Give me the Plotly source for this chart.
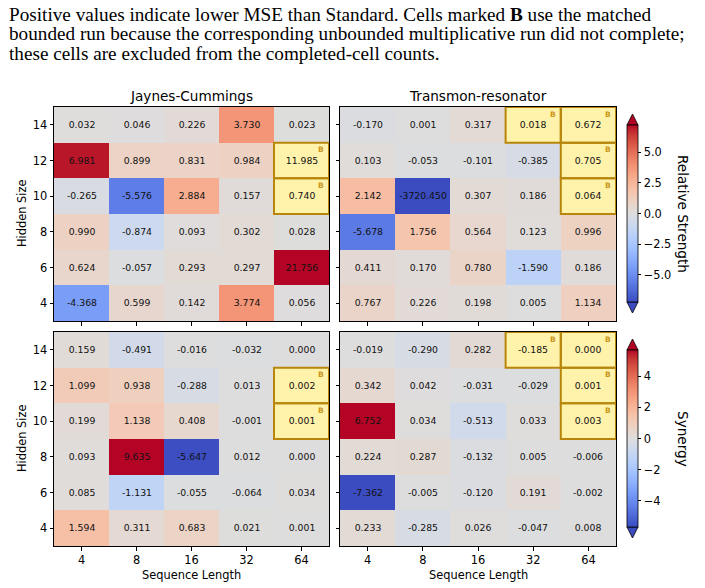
import plotly.graph_objects as go

W, H = 705, 588

seq_lengths = ["4", "8", "16", "32", "64"]
hidden_sizes = [14, 12, 10, 8, 6, 4]

# Relative strength (rows: hidden 14 -> 4, cols: seq 4 -> 64)
rel_jc = [
    [0.032, 0.046, 0.226, 3.730, 0.023],
    [6.981, 0.899, 0.831, 0.984, 11.985],
    [-0.265, -5.576, 2.884, 0.157, 0.740],
    [0.990, -0.874, 0.093, 0.302, 0.028],
    [0.624, -0.057, 0.293, 0.297, 21.756],
    [-4.368, 0.599, 0.142, 3.774, 0.056],
]
rel_tr = [
    [-0.170, 0.001, 0.317, 0.018, 0.672],
    [0.103, -0.053, -0.101, -0.385, 0.705],
    [2.142, -3720.450, 0.307, 0.186, 0.064],
    [-5.678, 1.756, 0.564, 0.123, 0.996],
    [0.411, 0.170, 0.780, -1.590, 0.186],
    [0.767, 0.226, 0.198, 0.005, 1.134],
]
syn_jc = [
    [0.159, -0.491, -0.016, -0.032, 0.000],
    [1.099, 0.938, -0.288, 0.013, 0.002],
    [0.199, 1.138, 0.408, -0.001, 0.001],
    [0.093, 9.635, -5.647, 0.012, 0.000],
    [0.085, -1.131, -0.055, -0.064, 0.034],
    [1.594, 0.311, 0.683, 0.021, 0.001],
]
syn_tr = [
    [-0.019, -0.290, 0.282, -0.185, 0.000],
    [0.342, 0.042, -0.031, -0.029, 0.001],
    [6.752, 0.034, -0.513, 0.033, 0.003],
    [0.224, 0.287, -0.132, 0.005, -0.006],
    [-7.362, -0.005, -0.120, 0.191, -0.002],
    [0.233, -0.285, 0.026, -0.047, 0.008],
]
# Bounded-run flags (same row/col order)
bounded_jc = [
    [0, 0, 0, 0, 0],
    [0, 0, 0, 0, 1],
    [0, 0, 0, 0, 1],
    [0, 0, 0, 0, 0],
    [0, 0, 0, 0, 0],
    [0, 0, 0, 0, 0],
]
bounded_tr = [
    [0, 0, 0, 1, 1],
    [0, 0, 0, 0, 1],
    [0, 0, 0, 0, 1],
    [0, 0, 0, 0, 0],
    [0, 0, 0, 0, 0],
    [0, 0, 0, 0, 0],
]
rel_limit = 7.2
syn_limit = 5.7

# matplotlib coolwarm
_r = [0.2298057, 0.26623388, 0.30386891, 0.342804478, 0.38301334, 0.424369608, 0.46666708, 0.509635204,
      0.552953156, 0.596262162, 0.639176211, 0.681291281, 0.722193294, 0.761464949, 0.798691636, 0.833466556,
      0.865395197, 0.897787179, 0.924127593, 0.944468518, 0.958852946, 0.96732803, 0.969954137, 0.966811177,
      0.958003065, 0.943660866, 0.923944917, 0.89904617, 0.869186849, 0.834620542, 0.795631745, 0.752534934,
      0.705673158]
_g = [0.298717966, 0.353094838, 0.406535296, 0.458757618, 0.50941904, 0.558148092, 0.604562568, 0.648280772,
      0.688929332, 0.726149107, 0.759599947, 0.788964712, 0.813952739, 0.834302879, 0.849786142, 0.860207984,
      0.86541021, 0.848937047, 0.827384882, 0.800927443, 0.769767752, 0.734132809, 0.694266682, 0.650421156,
      0.602842431, 0.551750968, 0.49730856, 0.439559467, 0.378313092, 0.312874446, 0.24128379, 0.157246067,
      0.01555616]
_b = [0.753683153, 0.801466763, 0.84495867, 0.883725899, 0.917387822, 0.945619588, 0.968154911, 0.98478814,
      0.995375608, 0.999836203, 0.998151185, 0.990363227, 0.976574709, 0.956945269, 0.931688648, 0.901068838,
      0.865395561, 0.820880546, 0.774508472, 0.726736146, 0.678007945, 0.628751763, 0.579375448, 0.530263762,
      0.481775914, 0.434243684, 0.387970225, 0.343229596, 0.300267182, 0.259301199, 0.220525627, 0.184115123,
      0.150232812]
coolwarm = [[i / 32, "rgb(%d,%d,%d)" % (round(r * 255), round(g * 255), round(b * 255))]
            for i, (r, g, b) in enumerate(zip(_r, _g, _b))]

FONT = "DejaVu Sans"
YELLOW = "#fff2aa"
GOLD = "#b8860b"


def px(x):
    return x / W


def py(y):
    return 1 - y / H


panels = [
    # data, bounded, coloraxis, x-range px, y-range px
    (rel_jc, bounded_jc, "coloraxis", (54, 329), (107, 321)),
    (rel_tr, bounded_tr, "coloraxis", (340, 616), (107, 321)),
    (syn_jc, bounded_jc, "coloraxis2", (54, 329), (332, 546)),
    (syn_tr, bounded_tr, "coloraxis2", (340, 616), (332, 546)),
]

fig = go.Figure()
shapes = []
annotations = []
layout_axes = {}

for k, (z, bmask, cax, (xl, xr), (yt, yb)) in enumerate(panels, start=1):
    xa = "x" if k == 1 else "x%d" % k
    ya = "y" if k == 1 else "y%d" % k
    text_main = [["" if bmask[i][j] else "%.3f" % z[i][j] for j in range(5)] for i in range(6)]
    fig.add_trace(go.Heatmap(
        z=z, x=seq_lengths, y=hidden_sizes, coloraxis=cax,
        text=text_main, texttemplate="%{text}",
        textfont=dict(family=FONT, size=9.3, color="#111"),
        xaxis=xa, yaxis=ya, hoverinfo="skip",
    ))
    zb = [[1 if bmask[i][j] else None for j in range(5)] for i in range(6)]
    text_b = [["%.3f" % z[i][j] if bmask[i][j] else "" for j in range(5)] for i in range(6)]
    fig.add_trace(go.Heatmap(
        z=zb, x=seq_lengths, y=hidden_sizes,
        colorscale=[[0, YELLOW], [1, YELLOW]], showscale=False,
        text=text_b, texttemplate="%{text}",
        textfont=dict(family=FONT, size=9.3, color="#111"),
        xaxis=xa, yaxis=ya, hoverinfo="skip",
    ))
    for i in range(6):
        for j in range(5):
            if bmask[i][j]:
                shapes.append(dict(type="rect", xref=xa, yref=ya,
                                   x0=j - 0.5, x1=j + 0.5,
                                   y0=hidden_sizes[i] - 1, y1=hidden_sizes[i] + 1,
                                   line=dict(color=GOLD, width=2), fillcolor="rgba(0,0,0,0)",
                                   layer="above"))
                annotations.append(dict(xref=xa, yref=ya, x=j + 0.35, y=hidden_sizes[i] + 0.59,
                                        text="<b>B</b>", showarrow=False,
                                        font=dict(family=FONT, size=7.5, color="#c9961a"),
                                        xanchor="center", yanchor="middle"))
    axn = "xaxis" if k == 1 else "xaxis%d" % k
    ayn = "yaxis" if k == 1 else "yaxis%d" % k
    layout_axes[axn] = dict(
        domain=[px(xl), px(xr)], anchor=ya, type="category", range=[-0.5, 4.5],
        showline=True, mirror=True, linecolor="black", linewidth=1,
        ticks="outside", ticklen=3.5, tickwidth=0.8, tickcolor="black",
        showticklabels=(k >= 3), tickfont=dict(family=FONT, size=11.4, color="black"),
        showgrid=False, zeroline=False, fixedrange=True,
    )
    layout_axes[ayn] = dict(
        domain=[py(yb), py(yt)], anchor=xa, range=[3, 15],
        tickvals=hidden_sizes, ticktext=[str(h) for h in hidden_sizes],
        showline=True, mirror=True, linecolor="black", linewidth=1,
        ticks="outside", ticklen=3.5, tickwidth=0.8, tickcolor="black",
        showticklabels=(k in (1, 3)), tickfont=dict(family=FONT, size=11.4, color="black"),
        showgrid=False, zeroline=False, fixedrange=True,
    )

# Panel titles and axis labels
for title, xc in (("Jaynes-Cummings", 191.5), ("Transmon-resonator", 478)):
    annotations.append(dict(xref="paper", yref="paper", x=px(xc), y=py(96), text=title,
                            showarrow=False, xanchor="center", yanchor="middle",
                            font=dict(family=FONT, size=13.6, color="black")))
for yc in (214, 439):
    annotations.append(dict(xref="paper", yref="paper", x=px(22), y=py(yc), text="Hidden Size",
                            showarrow=False, textangle=-90, xanchor="center", yanchor="middle",
                            font=dict(family=FONT, size=11.4, color="black")))
for xc in (191.5, 478):
    annotations.append(dict(xref="paper", yref="paper", x=px(xc), y=py(575), text="Sequence Length",
                            showarrow=False, xanchor="center", yanchor="middle",
                            font=dict(family=FONT, size=11.4, color="black")))
for label, yc in (("Relative Strength", 214), ("Synergy", 439)):
    annotations.append(dict(xref="paper", yref="paper", x=px(683), y=py(yc), text=label,
                            showarrow=False, textangle=90, xanchor="center", yanchor="middle",
                            font=dict(family=FONT, size=13.6, color="black")))

# Caption
caption = [
    "Positive values indicate lower MSE than Standard. Cells marked <b>B</b> use the matched",
    "bounded run because the corresponding unbounded multiplicative run did not complete;",
    "these cells are excluded from the completed-cell counts.",
]
for line, yc in zip(caption, (14, 34, 54)):
    annotations.append(dict(xref="paper", yref="paper", x=px(7), y=py(yc), text=line,
                            showarrow=False, xanchor="left", yanchor="middle",
                            font=dict(family="Liberation Serif", size=19.2, color="black")))

# Colorbar extension triangles
cb_x0, cb_x1 = 627, 638
for (yt, yb), lim in (((125, 302), rel_limit), ((350, 527), syn_limit)):
    xm = (cb_x0 + cb_x1) / 2
    shapes.append(dict(type="path", xref="paper", yref="paper",
                       path="M %f,%f L %f,%f L %f,%f Z" % (px(cb_x0), py(yt), px(xm), py(yt - 11), px(cb_x1), py(yt)),
                       fillcolor=coolwarm[-1][1], line=dict(color="black", width=0.8)))
    shapes.append(dict(type="path", xref="paper", yref="paper",
                       path="M %f,%f L %f,%f L %f,%f Z" % (px(cb_x0), py(yb), px(xm), py(yb + 11), px(cb_x1), py(yb)),
                       fillcolor=coolwarm[0][1], line=dict(color="black", width=0.8)))


def cbar(yc, tickvals, ticktext):
    return dict(x=px(cb_x0), xanchor="left", xpad=0, ypad=0, y=py(yc), yanchor="middle",
                thickness=cb_x1 - cb_x0, lenmode="pixels", len=177,
                outlinewidth=0.8, outlinecolor="black",
                ticks="outside", ticklen=3.5, tickwidth=0.8, tickcolor="black",
                tickvals=tickvals, ticktext=ticktext,
                tickfont=dict(family=FONT, size=11.4, color="black"))


fig.update_layout(
    width=W, height=H, margin=dict(l=0, r=0, t=0, b=0),
    paper_bgcolor="white", plot_bgcolor="white",
    coloraxis=dict(colorscale=coolwarm, cmin=-rel_limit, cmax=rel_limit,
                   colorbar=cbar(213.5, [5, 2.5, 0, -2.5, -5], ["5.0", "2.5", "0.0", "\u22122.5", "\u22125.0"])),
    coloraxis2=dict(colorscale=coolwarm, cmin=-syn_limit, cmax=syn_limit,
                    colorbar=cbar(438.5, [4, 2, 0, -2, -4], ["4", "2", "0", "\u22122", "\u22124"])),
    shapes=shapes, annotations=annotations, showlegend=False,
    **layout_axes,
)

fig.write_html("out.html")
